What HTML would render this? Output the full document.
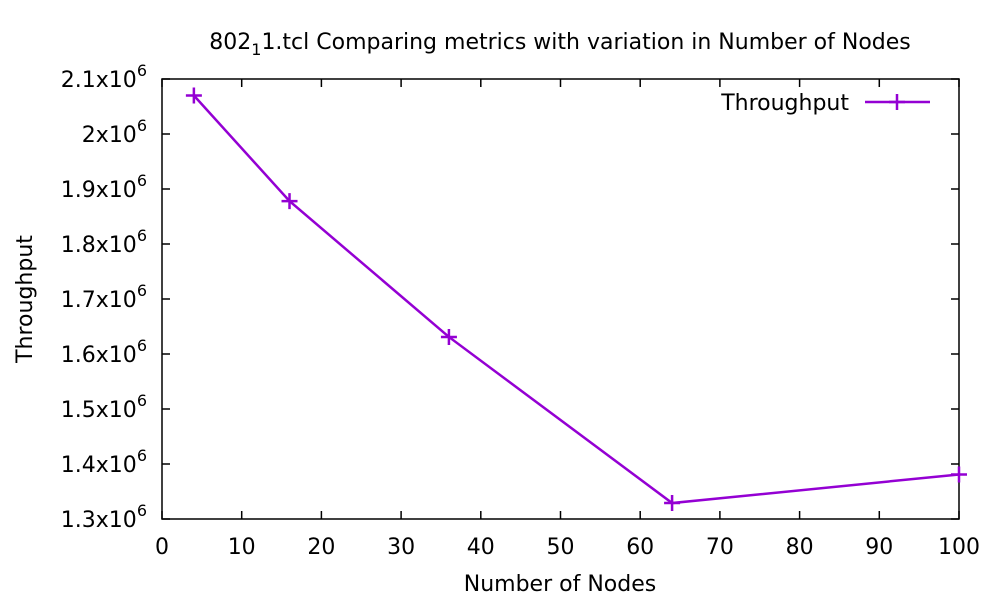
<!DOCTYPE html>
<html><head><meta charset="utf-8"><style>
html,body{margin:0;padding:0;background:#fff;}
svg{display:block;font-family:"DejaVu Sans","Liberation Sans",sans-serif;}
</style></head><body>
<svg id="chart" width="1000" height="600" viewBox="0 0 1000 600">
<text x="560" y="49" font-size="22" text-anchor="middle">802<tspan font-size="16" dy="6">1</tspan><tspan dy="-6">1.tcl Comparing metrics with variation in Number of Nodes</tspan></text>
<g id="axes"></g>
<rect x="162" y="79" width="797" height="440" fill="none" stroke="#000" stroke-width="1.5"/>
<text x="560" y="591" font-size="22" text-anchor="middle">Number of Nodes</text>
<text transform="translate(32,299) rotate(-90)" font-size="22" text-anchor="middle">Throughput</text>
<g>
<text x="849" y="110" font-size="22" text-anchor="end">Throughput</text>
<line x1="865" y1="102" x2="930" y2="102" stroke="#9400d3" stroke-width="2.5"/>
<path d="M889 102H905M897 94V110" stroke="#9400d3" stroke-width="2.5"/>
</g>
<g id="series"></g>
</svg>
<script>
const xTicks=[0,10,20,30,40,50,60,70,80,90,100];
const yTicks=[1.3,1.4,1.5,1.6,1.7,1.8,1.9,2.0,2.1];
const yTickLabels=["1.3x10","1.4x10","1.5x10","1.6x10","1.7x10","1.8x10","1.9x10","2x10","2.1x10"];
const nodes=[4,16,36,64,100];
const throughput=[2.07e6,1.878e6,1.631e6,1.329e6,1.381e6];
const NS="http://www.w3.org/2000/svg";
const X0=162,X1=959,Y0=519,Y1=79;
const sx=v=>X0+(v-0)/(100-0)*(X1-X0);
const sy=v=>Y0-(v-1.3e6)/(2.1e6-1.3e6)*(Y0-Y1);
function mk(t,a,p){const e=document.createElementNS(NS,t);for(const k in a)e.setAttribute(k,a[k]);p.appendChild(e);return e;}
const ax=document.getElementById('axes');
xTicks.forEach(v=>{const x=sx(v);
 const a=mk('line',{x1:x,y1:Y0,x2:x,y2:Y0-8,stroke:'#000','stroke-width':1.5},ax);
 
 
 const b=mk('line',{x1:x,y1:Y1,x2:x,y2:Y1+8,stroke:'#000','stroke-width':1.5},ax);
 
 
 const t=mk('text',{x:x,y:554,'font-size':22,'text-anchor':'middle'},ax);t.textContent=v;
 
 
});
yTicks.forEach((v,i)=>{const y=sy(v*1e6);
 const a=mk('line',{x1:X0,y1:y,x2:X0+8,y2:y,stroke:'#000','stroke-width':1.5},ax);
 
 
 const b=mk('line',{x1:X1,y1:y,x2:X1-8,y2:y,stroke:'#000','stroke-width':1.5},ax);
 
 
 const t=mk('text',{x:147,y:y+8,'font-size':22,'text-anchor':'end'},ax);
 t.textContent=yTickLabels[i];
 const s=mk('tspan',{'font-size':16,dy:-11},t);s.textContent='6';
 
 
});
const sg=document.getElementById('series');
const pts=nodes.map((n,i)=>sx(n)+','+sy(throughput[i])).join(' ');
const pl=mk('polyline',{points:pts,fill:'none',stroke:'#9400d3','stroke-width':2.5},sg);


nodes.forEach((n,i)=>{const x=sx(n),y=sy(throughput[i]);
 const p=mk('path',{d:`M${x-8} ${y}H${x+8}M${x} ${y-8}V${y+8}`,stroke:'#9400d3','stroke-width':2.5},sg);
 
 
});
</script>
</body></html>
